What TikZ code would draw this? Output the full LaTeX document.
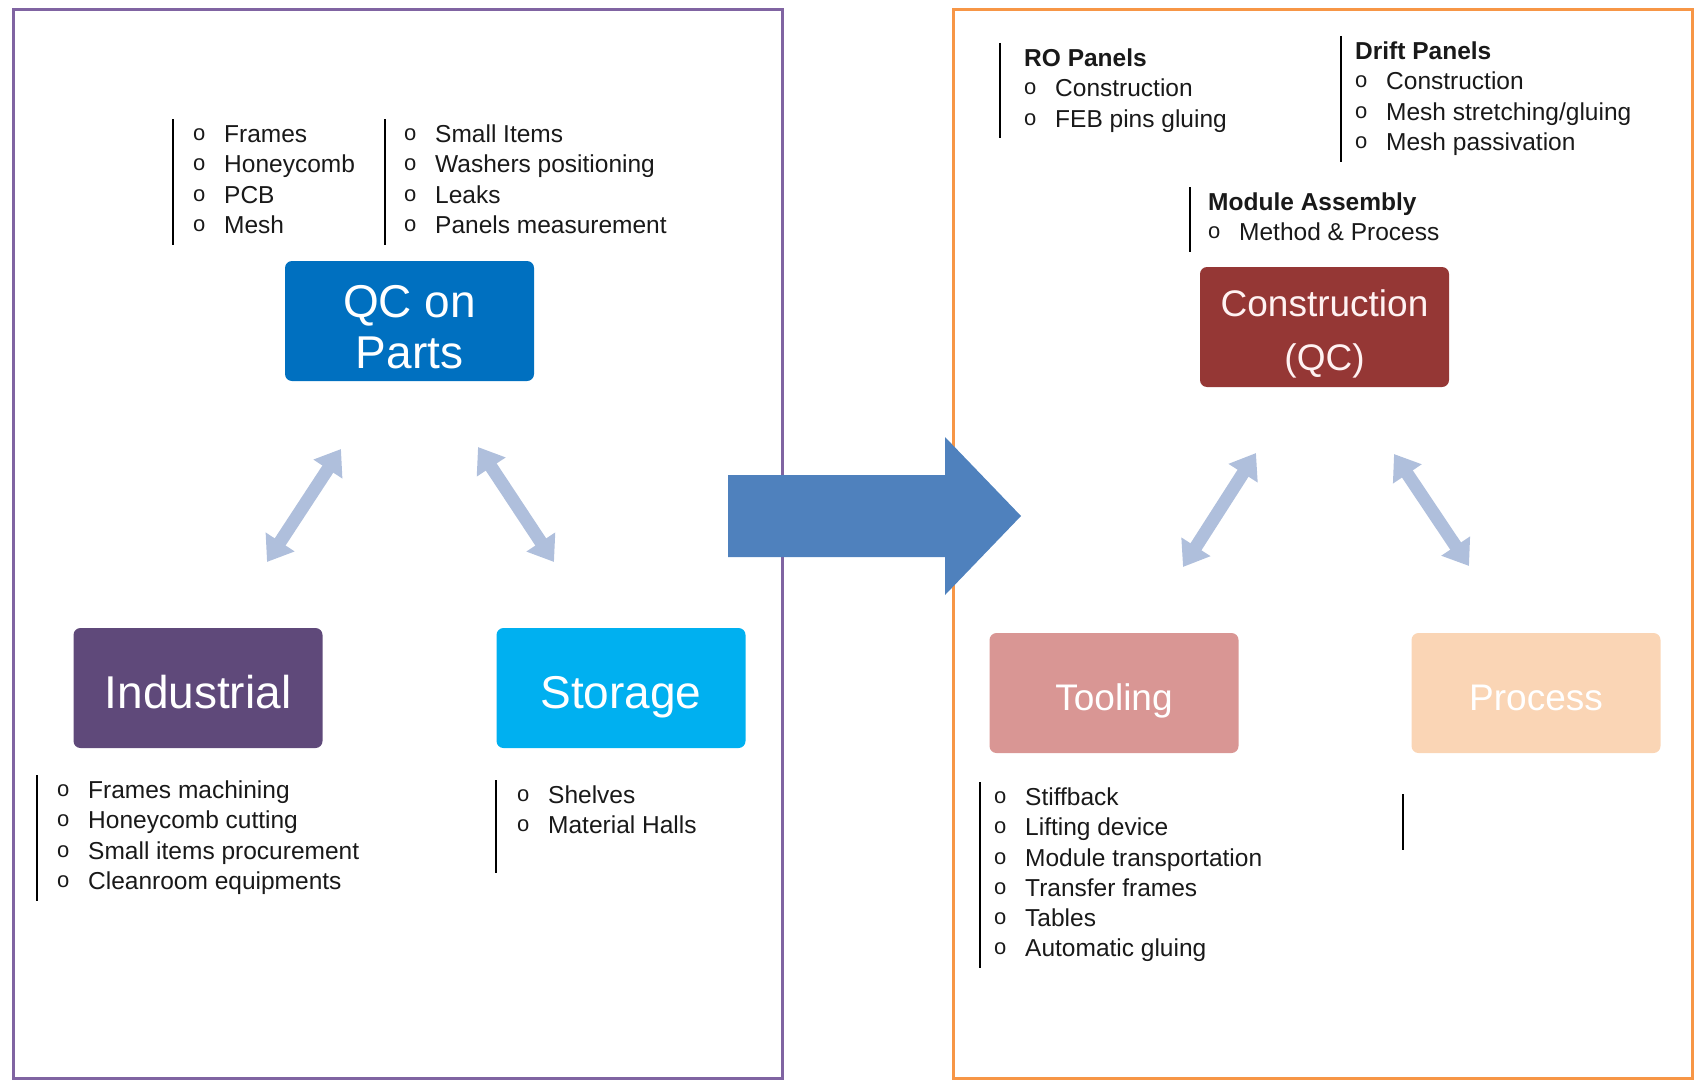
\documentclass[tikz,border=0pt]{standalone}
\usepackage{fontspec}
\setmainfont{Liberation Sans}
\usetikzlibrary{arrows.meta}
\definecolor{leftframe}{HTML}{8064A2}
\definecolor{rightframe}{HTML}{F79646}
\definecolor{flowblue}{HTML}{4F81BD}
\definecolor{linkblue}{HTML}{AFBFDC}
\definecolor{qcblue}{HTML}{0070C0}
\definecolor{indpurple}{HTML}{5F497A}
\definecolor{stocyan}{HTML}{00B0F0}
\definecolor{consred}{HTML}{953735}
\definecolor{toolpink}{HTML}{D99694}
\definecolor{procpeach}{HTML}{FAD5B5}
\tikzstyle{frame} = [line width=3pt]
\tikzstyle{boxbase} = [rectangle, rounded corners=7pt, minimum width=249pt, minimum height=120pt, text centered, align=center, text=white]
\tikzstyle{bigbox} = [boxbase, font=\fontsize{46}{51}\selectfont, text height=41pt, text depth=0pt]
\tikzstyle{bigbox2} = [boxbase, font=\fontsize{46}{51}\selectfont]
\tikzstyle{smallbox} = [boxbase, font=\fontsize{37}{54}\selectfont, text height=35pt, text depth=0pt]
\tikzstyle{smallbox2} = [boxbase, font=\fontsize{37}{54}\selectfont]
\tikzstyle{itemlist} = [anchor=north west, align=left, inner xsep=0pt, inner ysep=2pt, text=black!90, font=\fontsize{24.5}{30.3}\selectfont]
\tikzstyle{bar} = [line width=1.3pt, black]
\tikzstyle{dblarrow} = [line width=13pt, draw=linkblue, {Triangle[width=33pt,length=24pt]}-{Triangle[width=33pt,length=24pt]}]
\newcommand{\itm}[1]{\strut\makebox[31pt][l]{\raisebox{2pt}{\fontsize{22}{22}\selectfont o}}#1}
\newcommand{\hdg}[1]{\strut\textbf{#1}}

\begin{document}
\begin{tikzpicture}[x=1pt, y=-1pt]
    \useasboundingbox (0,0) rectangle (1694,1081);
    % frames
    \draw [frame, leftframe] (13,10) rectangle (782,1078);
    \draw [frame, rightframe] (953,10) rectangle (1692,1078);
    % big arrow
    \fill [flowblue] (728,475) -- (945,475) -- (945,437) -- (1021,516) -- (945,595) -- (945,557) -- (728,557) -- cycle;

    % left side
    \node (qc) [bigbox2, fill=qcblue] at (409.5,321) {\rule{0pt}{44pt}QC on\\Parts};
    \node (ind) [bigbox, fill=indpurple] at (198,688) {Industrial};
    \node (sto) [bigbox, fill=stocyan] at (621,688) {Storage};

    \node (qcA) [itemlist] at (193,119) {\itm{Frames}\\\itm{Honeycomb}\\\itm{PCB}\\\itm{Mesh}};
    \node (qcB) [itemlist] at (404,119) {\itm{Small Items}\\\itm{Washers positioning}\\\itm{Leaks}\\\itm{Panels measurement}};
    \node (indL) [itemlist] at (57,775) {\itm{Frames machining}\\\itm{Honeycomb cutting}\\\itm{Small items procurement}\\\itm{Cleanroom equipments}};
    \node (stoL) [itemlist] at (517,780) {\itm{Shelves}\\\itm{Material Halls}};

    \draw [bar] ([xshift=-20pt]qcA.north west) -- ([xshift=-20pt]qcA.south west);
    \draw [bar] ([xshift=-19pt]qcB.north west) -- ([xshift=-19pt]qcB.south west);
    \draw [bar] ([xshift=-20pt]indL.north west) -- ([xshift=-20pt]indL.south west);
    \draw [bar] ([xshift=-21pt]stoL.north west) -- ([xshift=-21pt,yshift=-28pt]stoL.south west);

    \coordinate (l1) at (341,449);
    \coordinate (l2) at (267,562);
    \coordinate (l3) at (478,447);
    \coordinate (l4) at (554,562);
    \draw [dblarrow] (l1) -- (l2);
    \draw [dblarrow] (l3) -- (l4);

    % right side
    \node (cons) [smallbox2, fill=consred, text=red!5] at (1324.5,327) {\rule{0pt}{40pt}Construction\\(QC)};
    \node (tool) [smallbox, fill=toolpink] at (1114,693) {Tooling};
    \node (proc) [smallbox, fill=procpeach] at (1536,693) {Process};

    \node (roL) [itemlist] at (1024,43) {\hdg{RO Panels}\\\itm{Construction}\\\itm{FEB pins gluing}};
    \node (driftL) [itemlist] at (1355,36) {\hdg{Drift Panels}\\\itm{Construction}\\\itm{Mesh stretching/gluing}\\\itm{Mesh passivation}};
    \node (modL) [itemlist] at (1208,187) {\hdg{Module Assembly}\\\itm{Method \& Process}};
    \node (toolL) [itemlist] at (994,782) {\itm{Stiffback}\\\itm{Lifting device}\\\itm{Module transportation}\\\itm{Transfer frames}\\\itm{Tables}\\\itm{Automatic gluing}};
    \coordinate (procL) at (1403,794);

    \draw [bar] ([xshift=-24pt]roL.north west) -- ([xshift=-24pt]roL.south west);
    \draw [bar] ([xshift=-14pt]driftL.north west) -- ([xshift=-14pt]driftL.south west);
    \draw [bar] ([xshift=-18pt]modL.north west) -- ([xshift=-18pt]modL.south west);
    \draw [bar] ([xshift=-14pt]toolL.north west) -- ([xshift=-14pt]toolL.south west);
    \draw [bar] (procL) -- ++(0,56);

    \coordinate (r1) at (1256,453);
    \coordinate (r2) at (1183,567);
    \coordinate (r3) at (1394,454);
    \coordinate (r4) at (1469,566);
    \draw [dblarrow] (r1) -- (r2);
    \draw [dblarrow] (r3) -- (r4);
\end{tikzpicture}
\end{document}
